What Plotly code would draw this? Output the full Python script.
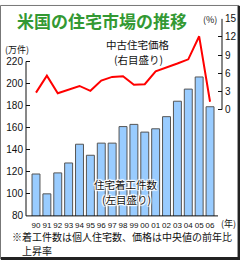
import plotly.graph_objects as go

years = ["90", "91", "92", "93", "94", "95", "96", "97", "98", "99",
         "00", "01", "02", "03", "04", "05", "06"]
starts = [118, 100, 119, 128, 145, 135, 146, 146, 161, 163,
          156, 159, 170, 184, 195, 206, 179]
price_growth = [2.8, 5.6, 2.7, 3.3, 3.9, 3.1, 4.8, 5.4, 5.5, 4.1,
                4.2, 6.3, 6.9, 7.6, 8.3, 12.1, 1.3]
left_ticks = [80, 100, 120, 140, 160, 180, 200, 220]
right_ticks = [0, 3, 6, 9, 12, 15]

W, H = 240, 266
def px(x): return x / W
def py(y): return 1 - y / H

JP = "Noto Sans CJK JP"
NUM = "Liberation Sans, Arial"

fig = go.Figure()
fig.add_trace(go.Bar(
    x=years, y=starts, yaxis="y", width=0.73,
    marker=dict(color="#99CCFF", line=dict(color="#555555", width=1)),
    showlegend=False, hoverinfo="skip"))
fig.add_trace(go.Scatter(
    x=years, y=price_growth, yaxis="y2", mode="lines",
    line=dict(color="#FF0000", width=2),
    showlegend=False, hoverinfo="skip"))

x0, x1 = px(26), px(222)
ybot, ytop = py(220), py(14)

fig.update_layout(
    width=W, height=H, margin=dict(l=0, r=0, t=0, b=0),
    paper_bgcolor="white", plot_bgcolor="white",
    xaxis=dict(domain=[x0, x1], type="category", range=[-0.92, 17.1],
               tickmode="array", tickvals=years, ticktext=years,
               tickangle=0,
               showgrid=False, showline=False, ticks="", zeroline=False,
               tickfont=dict(family=NUM, size=8, color="#111"),
               ticklabelstandoff=3),
    yaxis=dict(domain=[ybot, ytop], range=[80, 259.1], tickvals=left_ticks,
               showgrid=False, showline=False, zeroline=False,
               ticks="inside", ticklen=4, tickcolor="#111", tickwidth=1,
               tickfont=dict(family=NUM, size=10, color="#111"),
               ticklabelstandoff=2),
    yaxis2=dict(overlaying="y", side="right", range=[-17.55, 15.05],
                tickvals=right_ticks, showgrid=False, showline=False,
                zeroline=False, ticks="inside", ticklen=4, tickcolor="#111",
                tickwidth=1, tickfont=dict(family=NUM, size=10, color="#111"),
                ticklabelstandoff=2),
)

shapes = [
    dict(type="line", xref="paper", yref="y", x0=x0, x1=x0, y0=80, y1=220,
         line=dict(color="#111", width=1)),
    dict(type="line", xref="paper", yref="y2", x0=x1, x1=x1, y0=0, y1=15,
         line=dict(color="#111", width=1)),
    dict(type="line", xref="paper", yref="paper", x0=x0, x1=px(218),
         y0=ybot, y1=ybot, line=dict(color="#111", width=1)),
    dict(type="rect", xref="paper", yref="paper", x0=px(0.5), x1=px(239),
         y0=py(265), y1=py(0.5), line=dict(color="#777", width=1)),
    dict(type="line", xref="paper", yref="paper", x0=px(1), x1=px(240),
         y0=py(264.5), y1=py(264.5), line=dict(color="#222", width=3)),
    dict(type="line", xref="paper", yref="paper", x0=px(238.8), x1=px(238.8),
         y0=py(266), y1=py(1), line=dict(color="#222", width=2.5)),
]
fig.update_layout(shapes=shapes)

halo = ("1px 1px 1px white, -1px -1px 1px white, 1px -1px 1px white, "
        "-1px 1px 1px white, 0px 1px 1px white, 0px -1px 1px white, "
        "1px 0px 1px white, -1px 0px 1px white")

def ann(text, x, y, size, color="#111", xanchor="center", family=JP,
        weight=None, shadow=None):
    f = dict(family=family, size=size, color=color)
    if weight:
        f["weight"] = weight
    if shadow:
        f["shadow"] = shadow
    fig.add_annotation(text=text, xref="paper", yref="paper",
                       x=px(x), y=py(y), xanchor=xanchor, yanchor="middle",
                       showarrow=False, font=f, borderpad=0)

ann("米国の住宅市場の推移", 16, 16, 17, color="#339933", xanchor="left",
    weight="bold")
ann("(%)", 218, 15, 9, xanchor="right")
ann("(万件)", 4, 46, 9, xanchor="left")
ann("中古住宅価格", 138, 41, 10.5, shadow=halo)
ann("(右目盛り)", 138, 57, 10.5, shadow=halo)
ann("住宅着工件数", 126, 187, 10.5, shadow=halo)
ann("(左目盛り)", 126, 203, 10.5, shadow=halo)
ann("(年)", 237, 228, 9, xanchor="right")
ann("※着工件数は個人住宅数、価格は中央値の前年比", 11, 242, 10,
    xanchor="left")
ann("上昇率", 21, 256, 10, xanchor="left")

fig.write_html("out.html")
